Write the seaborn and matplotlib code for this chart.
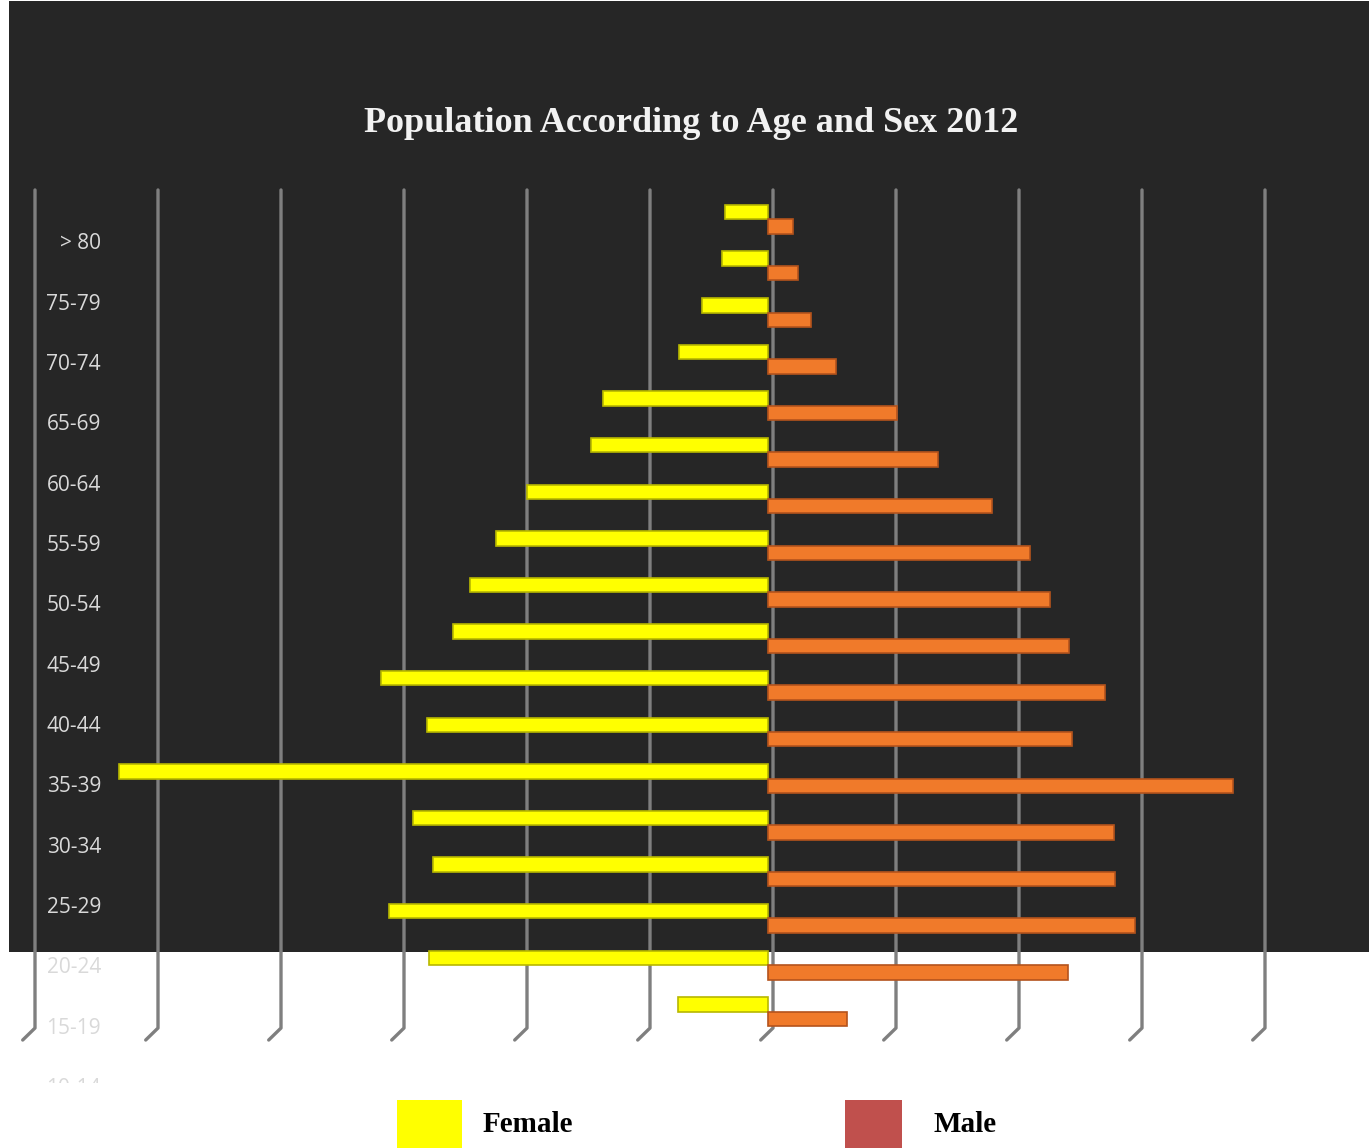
import pandas as pd
import matplotlib
matplotlib.use("Agg")
import matplotlib.pyplot as plt
import seaborn as sns
from matplotlib.patches import Rectangle

# Data (one grid step = 1000)
age_groups = ['> 85', '80-84', '75-79', '70-74', '65-69', '60-64', '55-59', '50-54', '45-49',
              '40-44', '35-39', '30-34', '25-29', '20-24', '15-19', '10-14', '5-9', '0-4']
female = [350, 370, 540, 720, 1340, 1440, 1960, 2210, 2420, 2560, 3150, 2770, 5280, 2890, 2720, 3080, 2760, 730]
male = [200, 240, 350, 550, 1050, 1380, 1820, 2130, 2290, 2450, 2740, 2470, 3780, 2810, 2820, 2980, 2440, 640]
tick_labels = ['> 80', '75-79', '70-74', '65-69', '60-64', '55-59', '50-54', '45-49', '40-44',
               '35-39', '30-34', '25-29', '20-24', '15-19', '10-14', '5-9', '0-4']
grid_ticks = [-6000, -5000, -4000, -3000, -2000, -1000, 0, 1000, 2000, 3000, 4000]

df = pd.DataFrame({
    'age': age_groups * 2,
    'sex': ['Female'] * len(age_groups) + ['Male'] * len(age_groups),
    'value': [-v for v in female] + male,
})

W, H = 1369, 1148
fig = plt.figure(figsize=(W / 100, H / 100), dpi=100)
fig.patch.set_facecolor('white')


def box(x0, y0, x1, y1):
    # pixel box (top-left origin) -> figure fraction rect
    return [x0 / W, 1 - y1 / H, (x1 - x0) / W, (y1 - y0) / H]


# dark chart background that stops above the bottom
fig.patches.append(Rectangle((9 / W, 1 - 952 / H), (W - 9) / W, 951 / H,
                             transform=fig.transFigure, facecolor='#262626', edgecolor='none', zorder=-10))

ax = fig.add_axes(box(35, 196, 1265, 1035))
ax.set_facecolor('none')
sns.barplot(data=df, x='value', y='age', hue='sex', order=age_groups, hue_order=['Female', 'Male'],
            palette={'Female': '#ffff00', 'Male': '#f07a2a'}, orient='y', dodge=True, width=0.62,
            saturation=1, errorbar=None, legend=False, ax=ax, zorder=3)
for p in ax.patches:
    fc = p.get_facecolor()
    if fc[2] < 0.05 and fc[1] > 0.9:
        p.set_edgecolor('#b8b800')
    else:
        p.set_edgecolor('#b4531c')
    p.set_linewidth(1.2)

shift = 5 / 123 * 1000
ax.set_xlim(grid_ticks[0] + shift, grid_ticks[-1] + shift)
ax.set_ylim(len(age_groups) - 0.5, -0.5)
trans = ax.get_xaxis_transform()
for t in grid_ticks:
    gx = t + shift
    ax.plot([gx, gx, gx - 100], [1.0072, 0.0083, -0.006], color='#7f7f7f', lw=2.4,
            transform=trans, clip_on=False, zorder=1, solid_capstyle='round')
ax.axis('off')

# age labels drawn in their own strip (they are cut off at the bottom)
lab = fig.add_axes(box(0, 190, 101, 1083))
lab.set_xlim(0, 1)
lab.set_ylim(13.91, -0.89)
lab.axis('off')
for i, t in enumerate(tick_labels):
    lab.text(1, i, t, ha='right', va='center', fontsize=15, color='#d9d9d9',
             family='Open Sans', clip_on=True)

fig.text(691 / W, 1 - 124 / H, 'Population According to Age and Sex 2012', ha='center', va='center',
         fontsize=26, fontweight='bold', family='Liberation Serif', color='#f2f2f2')

# legend
fig.patches.append(Rectangle((397 / W, 1 - 1148 / H), 65 / W, 48 / H, transform=fig.transFigure,
                             facecolor='#ffff00', edgecolor='none'))
fig.patches.append(Rectangle((845 / W, 1 - 1148 / H), 57 / W, 48 / H, transform=fig.transFigure,
                             facecolor='#c0504d', edgecolor='none'))
fig.text(483 / W, 1 - 1124 / H, 'Female', ha='left', va='center', fontsize=21, fontweight='bold',
         family='Liberation Serif', color='black')
fig.text(933 / W, 1 - 1124 / H, 'Male', ha='left', va='center', fontsize=21, fontweight='bold',
         family='Liberation Serif', color='black')

fig.savefig('out.png', dpi=100)
